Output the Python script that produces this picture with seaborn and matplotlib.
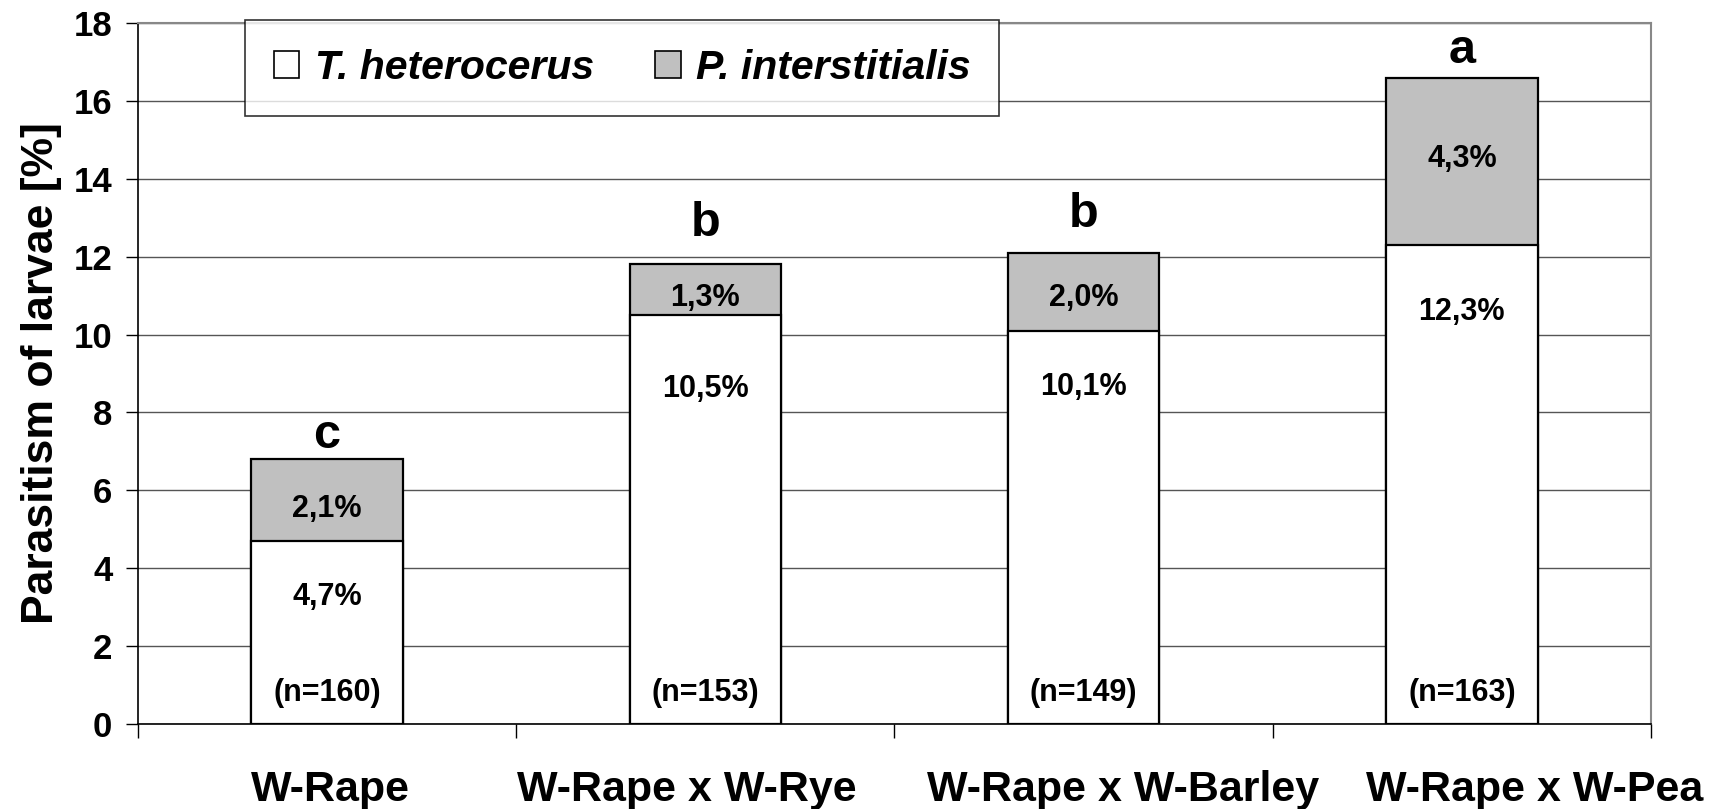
import matplotlib
matplotlib.use("Agg")
import matplotlib.pyplot as plt
import matplotlib.transforms as mtransforms
import seaborn as sns
import numpy as np
from matplotlib.patches import Patch

categories = ["W-Rape", "W-Rape x W-Rye", "W-Rape x W-Barley", "W-Rape x W-Pea"]
t_heterocerus = [4.7, 10.5, 10.1, 12.3]
p_interstitialis = [2.1, 1.3, 2.0, 4.3]
t_labels = ["4,7%", "10,5%", "10,1%", "12,3%"]
p_labels = ["2,1%", "1,3%", "2,0%", "4,3%"]
n_labels = ["(n=160)", "(n=153)", "(n=149)", "(n=163)"]
letters = ["c", "b", "b", "a"]
yticks = [0, 2, 4, 6, 8, 10, 12, 14, 16, 18]

sns.set_theme(style="white")
plt.rcParams['font.family'] = ['Liberation Sans', 'DejaVu Sans']
plt.rcParams['font.weight'] = 'bold'
for k in ['text.color', 'axes.labelcolor', 'xtick.color', 'ytick.color']:
    plt.rcParams[k] = 'black'

fig = plt.figure(figsize=(17.18, 8.09), dpi=100)
ax = fig.add_axes([0.0803, 0.105, 0.961 - 0.0803, 0.9716 - 0.105])

totals = [a + b for a, b in zip(t_heterocerus, p_interstitialis)]
grey = "#C0C0C0"
sns.barplot(x=categories, y=totals, color=grey, width=0.4, edgecolor="black",
            linewidth=1.6, saturation=1, ax=ax, zorder=3)
sns.barplot(x=categories, y=t_heterocerus, color="white", width=0.4, edgecolor="black",
            linewidth=1.6, saturation=1, ax=ax, zorder=4)

ax.set_xlim(-0.5, 3.5)
ax.set_ylim(0, 18)
ax.set_yticks(yticks)
ax.set_yticklabels([str(v) for v in yticks], fontsize=25, fontweight='bold')
ax.yaxis.grid(True, color="#555555", linewidth=1.0, zorder=0)
ax.set_axisbelow(True)

# x ticks: labels at category centres, tick marks at boundaries
ax.set_xticks(range(len(categories)))
ax.set_xticklabels(categories, fontsize=31, fontweight='bold')
ax.tick_params(axis='x', which='major', length=0, pad=33, colors='black')
ax.set_xticks(np.arange(-0.5, len(categories), 1.0), minor=True)
ax.tick_params(axis='x', which='minor', length=10, width=1.0, color='black', direction='out', bottom=True)
ax.tick_params(axis='y', which='major', length=8.5, width=1.0, color='black', direction='out', left=True, pad=10)

# horizontal nudges of the category labels (pixels), as placed in the original
label_shift_px = [3, -19, 39, 73]
for lab, dx in zip(ax.get_xticklabels(), label_shift_px):
    lab.set_transform(lab.get_transform() + mtransforms.ScaledTranslation(dx / 100, 0, fig.dpi_scale_trans))

ax.set_xlabel("")
ax.set_ylabel("Parasitism of larvae [%]", fontsize=32, fontweight='bold', labelpad=8)

for side in ["left", "bottom"]:
    ax.spines[side].set_color("black")
    ax.spines[side].set_linewidth(1.2)
ax.spines["right"].set_color("#888888")
ax.spines["right"].set_linewidth(1.5)
ax.spines["top"].set_color("#888888")
ax.spines["top"].set_linewidth(1.5)
for s in ax.spines.values():
    s.set_zorder(5)

t_label_drop = [1.45, 1.9, 1.45, 1.72]
p_label_drop = [0.22, 0.2, 0.17, -0.05]
letter_gap = [0.3, 0.72, 0.67, 0.36]
for i in range(len(categories)):
    ax.text(i, t_heterocerus[i] - t_label_drop[i], t_labels[i], ha='center', va='center',
            fontsize=22, fontweight='bold', zorder=6)
    ax.text(i, t_heterocerus[i] + p_interstitialis[i] / 2 - p_label_drop[i], p_labels[i],
            ha='center', va='center', fontsize=22, fontweight='bold', zorder=6)
    ax.text(i, 0.79, n_labels[i], ha='center', va='center', fontsize=22, fontweight='bold', zorder=6)
    ax.text(i, totals[i] + letter_gap[i], letters[i], ha='center', va='baseline', fontsize=35,
            fontweight='bold', zorder=6)

handles = [Patch(facecolor="white", edgecolor="black", linewidth=1.2),
           Patch(facecolor=grey, edgecolor="black", linewidth=1.2)]
leg = ax.legend(handles, ["T. heterocerus", "P. interstitialis"], ncol=2,
                loc='upper left', bbox_to_anchor=(0.0707, 1.004),
                prop={'size': 29.5, 'weight': 'bold', 'style': 'italic'},
                handlelength=0.63, handleheight=0.63, handletextpad=0.37, columnspacing=1.5,
                frameon=True, fancybox=False, borderpad=0.7, borderaxespad=0)
leg.get_frame().set_edgecolor("black")
leg.get_frame().set_linewidth(1.2)
leg.set_zorder(10)

fig.savefig("out.png", dpi=100, facecolor="white")
